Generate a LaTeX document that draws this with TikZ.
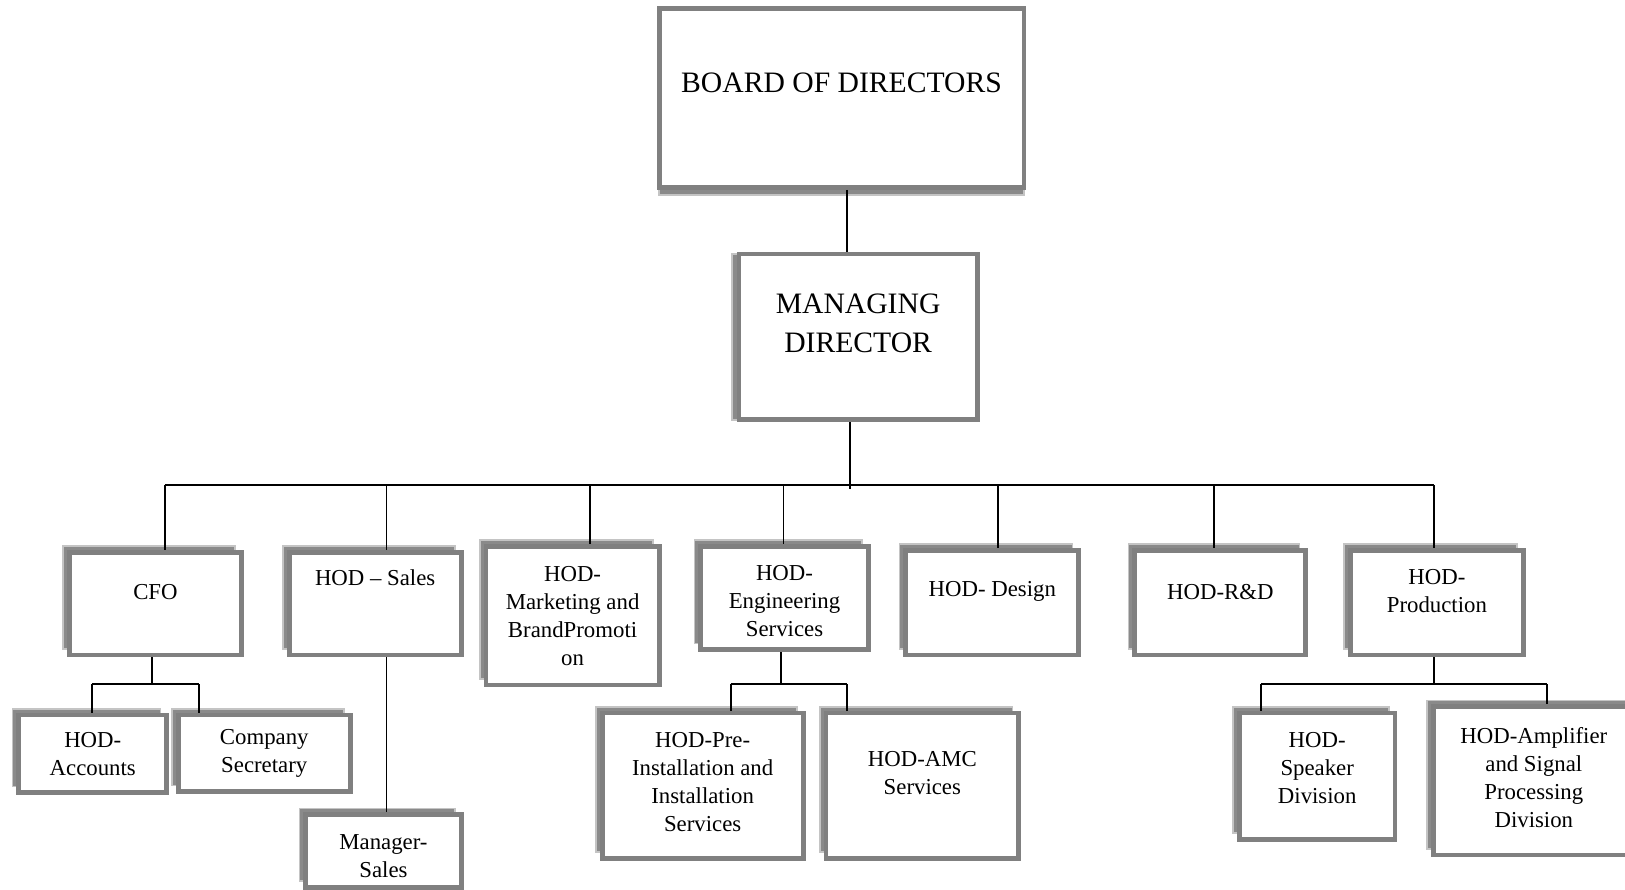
\documentclass[tikz,border=0pt]{standalone}
\usepackage{fontspec}
\setmainfont{Liberation Serif}
\usetikzlibrary{shadows, positioning}

\definecolor{boxgray}{HTML}{808080}
\definecolor{shadegray}{HTML}{8A8A8A}
\definecolor{shadelight}{HTML}{C4C4C4}

\begin{document}
\begin{tikzpicture}[
		x=0.5pt, y=-0.5pt,
		box/.style={rectangle, draw=boxgray, line width=2.3pt, fill=white, inner sep=0pt},
		back/.style={general shadow={shadow xshift=-3pt, shadow yshift=3pt, fill=shadegray, draw=shadelight, line width=0.8pt}},
		txt/.style={anchor=center, align=center, inner sep=0pt, font=\fontsize{11}{13.5}\selectfont},
		bigtxt/.style={txt, font=\fontsize{14.3}{19}\selectfont},
		line/.style={line width=0.9pt}
		]
		\useasboundingbox (0,0) rectangle (1568,858);
		
		% Top
		\node (board) [box, general shadow={shadow xshift=0pt, shadow yshift=-3.5pt, fill=shadegray, draw=shadelight, line width=0.8pt},
			minimum width=176pt, minimum height=86.5pt,
			label={[bigtxt, yshift=7.25pt]center:BOARD OF DIRECTORS}] at (812,94.5) {};
		\node (md) [box, general shadow={shadow xshift=-3.5pt, shadow yshift=0pt, fill=shadegray, draw=shadelight, line width=0.8pt},
			minimum width=115pt, minimum height=80pt,
			label={[bigtxt, yshift=6.5pt]center:MANAGING\\DIRECTOR}] at (828,325) {};
		
		% Heads
		\node (cfo) [box, back, minimum width=83pt, minimum height=49.5pt,
			label={[txt, yshift=5.75pt]center:CFO}] at (150,582.5) {};
		\node (sales) [box, back, minimum width=83pt, minimum height=49.5pt,
			label={[txt, yshift=12.75pt]center:HOD -- Sales}] at (362,582.5) {};
		\node (mkt) [box, back, minimum width=83.5pt, minimum height=67pt,
			label={[txt]center:HOD-\\Marketing and\\BrandPromoti\\on}] at (552.5,594) {};
		\node (eng) [box, back, minimum width=81pt, minimum height=50pt,
			label={[txt, yshift=-1.5pt]center:HOD-\\Engineering\\Services}] at (757,577) {};
		\node (design) [box, back, minimum width=83.5pt, minimum height=50.5pt,
			label={[txt, yshift=5.25pt]center:HOD- Design}] at (957.5,581.5) {};
		\node (rnd) [box, back, minimum width=82.5pt, minimum height=50.5pt,
			label={[txt, yshift=5.25pt]center:HOD-R\&D}] at (1177.5,581.5) {};
		\node (prod) [box, back, minimum width=83.5pt, minimum height=50.5pt,
			label={[txt, yshift=5.5pt]center:HOD-\\Production}] at (1386.5,581.5) {};
		
		% Second level
		\node (acc) [box, back, minimum width=71.5pt, minimum height=37.5pt,
			label={[txt]center:HOD-\\Accounts}] at (89.5,727.5) {};
		\node (sec) [box, back, minimum width=83pt, minimum height=37pt,
			label={[txt]center:Company\\Secretary}] at (255,727) {};
		\node (mgr) [box, back, minimum width=75pt, minimum height=35pt,
			label={[txt, yshift=-2.75pt]center:Manager-\\Sales}] at (370,821) {};
		\node (pre) [box, back, minimum width=97pt, minimum height=70pt,
			label={[txt, yshift=1.75pt]center:HOD-Pre-\\Installation and\\Installation\\Services}] at (678,758) {};
		\node (amc) [box, back, minimum width=93pt, minimum height=70pt,
			label={[txt, yshift=6.25pt]center:HOD-AMC\\Services}] at (890,758) {};
		\node (spk) [box, back, minimum width=75pt, minimum height=61pt,
			label={[txt, yshift=3.75pt]center:HOD-\\Speaker\\Division}] at (1271,749) {};
		\node (amp) [box, back, minimum width=97pt, minimum height=71.5pt,
			label={[txt, yshift=1.5pt]center:HOD-Amplifier\\and Signal\\Processing\\Division}] at (1480,753.5) {};
		
		% Bus points
		\coordinate (bus) at (820,468);
		\coordinate (cfo bus) at (147,660);
		\coordinate (eng bus) at (754,660);
		\coordinate (prod bus) at (1384,660);
		
		% Connections
		\draw [line] ([xshift=2.5pt]board.south) -- ([xshift=2.5pt]board.south |- md.north);
		\draw [line] (md.south -| bus) -- ([yshift=-2pt]bus);
		\draw [line] (159,468) -- (1384,468);
		\foreach \x/\n in {159/cfo, 373/sales, 569/mkt, 756/eng, 963/design, 1171/rnd, 1384/prod}
			\draw [line] (\x,468) -- (\x,468 |- \n.north);
		
		\draw [line] (cfo.south -| cfo bus) -- (cfo bus);
		\draw [line] (89,660) -- (192,660);
		\foreach \x/\n in {89/acc, 192/sec}
			\draw [line] (\x,660) -- (\x,660 |- \n.north);
		
		\draw [line] (sales.south -| 373,0) -- (373,0 |- mgr.north);
		
		\draw [line] (eng.south -| eng bus) -- (eng bus);
		\draw [line] (705,660) -- (817,660);
		\foreach \x/\n in {705/pre, 817/amc}
			\draw [line] (\x,660) -- (\x,660 |- \n.north);
		
		\draw [line] (prod.south -| prod bus) -- (prod bus);
		\draw [line] (1217,660) -- (1493,660);
		\foreach \x/\n in {1217/spk, 1493/amp}
			\draw [line] (\x,660) -- (\x,660 |- \n.north);
		
\end{tikzpicture}
\end{document}
